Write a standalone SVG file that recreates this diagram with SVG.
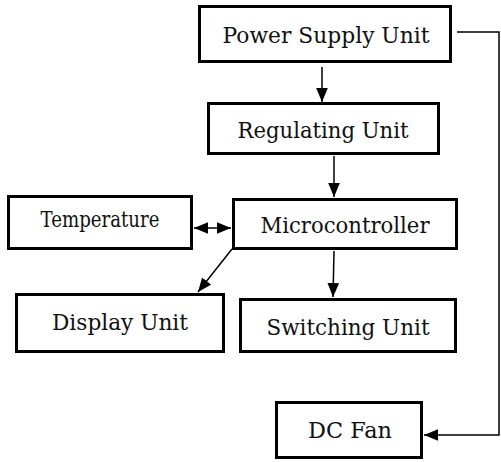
<svg xmlns="http://www.w3.org/2000/svg" width="501" height="462" viewBox="0 0 501 462">
<defs>
<style>
.box{fill:#fff;stroke:#000;stroke-width:3}
.con{fill:none;stroke:#000;stroke-width:1.5}
</style>
<marker id="ah" markerUnits="userSpaceOnUse" markerWidth="14" markerHeight="12" refX="12" refY="5" orient="auto-start-reverse" viewBox="0 0 12 10">
<path d="M0,0 L12,5 L0,10 Z" fill="#000"/>
</marker>
</defs>
<rect width="501" height="462" fill="#fff"/>
<g id="connectors">
<line class="con" x1="322" y1="67" x2="322" y2="102" marker-end="url(#ah)"/>
<line class="con" x1="334" y1="156" x2="334" y2="197" marker-end="url(#ah)"/>
<line class="con" x1="334" y1="251" x2="333" y2="297" marker-end="url(#ah)"/>
<line class="con" x1="194" y1="228" x2="231" y2="228" marker-start="url(#ah)" marker-end="url(#ah)"/>
<line class="con" x1="232" y1="249" x2="198" y2="292" marker-end="url(#ah)"/>
<polyline class="con" points="457,32 499,32 499,435 424,435" marker-end="url(#ah)"/>
</g>
<g font-family="DejaVu Serif, Liberation Serif, serif" font-size="22" fill="#111" text-anchor="middle">
<g id="power-supply"><rect class="box" x="199.5" y="6.5" width="251" height="55"/><text x="326" y="43" textLength="207" lengthAdjust="spacingAndGlyphs">Power Supply Unit</text></g>
<g id="regulating"><rect class="box" x="208.5" y="103.5" width="230" height="50"/><text x="323" y="138" textLength="171" lengthAdjust="spacingAndGlyphs">Regulating Unit</text></g>
<g id="microcontroller"><rect class="box" x="233.5" y="199.5" width="223" height="49"/><text x="345" y="233" textLength="169" lengthAdjust="spacingAndGlyphs">Microcontroller</text></g>
<g id="temperature"><rect class="box" x="8.5" y="196.5" width="183" height="52"/><text x="100" y="227" textLength="119" lengthAdjust="spacingAndGlyphs">Temperature</text></g>
<g id="display"><rect class="box" x="16.5" y="294.5" width="207" height="57"/><text x="120" y="330" textLength="136" lengthAdjust="spacingAndGlyphs">Display Unit</text></g>
<g id="switching"><rect class="box" x="240.5" y="299.5" width="215" height="52"/><text x="348" y="335" textLength="163" lengthAdjust="spacingAndGlyphs">Switching Unit</text></g>
<g id="dc-fan"><rect class="box" x="276.5" y="402.5" width="145" height="55"/><text x="350" y="438" textLength="84" lengthAdjust="spacingAndGlyphs">DC Fan</text></g>
</g>
</svg>
